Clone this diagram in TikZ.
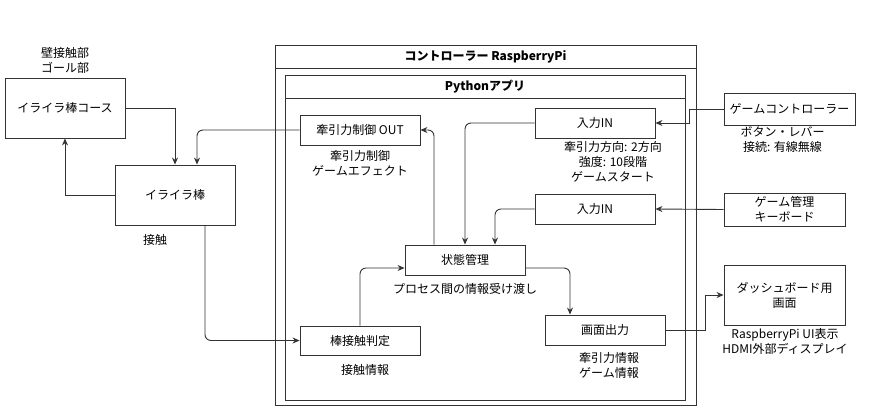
\documentclass[tikz,border=0pt]{standalone}
\usepackage{fontspec}
\setmainfont{Noto Sans CJK JP}
\usetikzlibrary{arrows.meta,positioning}
\tikzset{
  box/.style={draw=black!80, line width=0.9pt, minimum width=120pt, minimum height=30pt, inner sep=2pt, align=center},
  lbl/.style={align=center, inner sep=0pt},
  conn/.style={draw=black!80, line width=0.9pt, -{Stealth[length=7pt,width=6pt]}},
  roundconn/.style={conn, rounded corners=6pt}
}
\begin{document}
\begin{tikzpicture}[x=1pt, y=-1pt, font=\fontsize{12}{15}\selectfont]
  \useasboundingbox (0,0) rectangle (883,416);
  % containers
  \draw[black!80, line width=0.9pt] (275,45) rectangle (696,405);
  \draw[black!80, line width=0.9pt] (275,68) -- (696,68);
  \node[lbl, font=\fontsize{12}{15}\selectfont\bfseries] (ctrl) at (485.5,57) {コントローラー RaspberryPi};
  \draw[black!80, line width=0.9pt] (285,75) rectangle (685,400);
  \draw[black!80, line width=0.9pt] (285,98) -- (685,98);
  \node[lbl, font=\fontsize{12}{15}\selectfont\bfseries] (app) at (485,87) {Pythonアプリ};
  % boxes
  \node[box, minimum height=60pt] (course) at (65,108) {イライラ棒コース};
  \node[box, minimum height=60pt] (stick) at (175,195) {イライラ棒};
  \node[box] (out) at (360,130) {牽引力制御 OUT};
  \node[box] (in1) at (595,123) {入力IN};
  \node[box] (in2) at (595,209) {入力IN};
  \node[box] (state) at (465,260) {状態管理};
  \node[box, minimum height=29pt] (judge) at (360,340.5) {棒接触判定};
  \node[box] (screen) at (605,330) {画面出力};
  \node[box, minimum width=131pt, minimum height=32pt] (gc) at (789.5,109) {ゲームコントローラー};
  \node[box, minimum width=121pt, minimum height=33pt] (kb) at (784.5,209.5) {ゲーム管理\\キーボード};
  \node[box, minimum width=121pt, minimum height=60pt] (dash) at (784.5,295) {ダッシュボード用\\画面};
  % labels
  \node[lbl, above=4pt of course] (courselbl) {壁接触部\\ゴール部};
  \node[lbl] (sticklbl) at (155,240) {接触};
  \node[lbl] (outlbl) at (360,163) {牽引力制御\\ゲームエフェクト};
  \node[lbl] (in1lbl) at (613,162) {牽引力方向: 2方向\\強度: 10段階\\ゲームスタート};
  \node[lbl] (statelbl) at (465,289) {プロセス間の情報受け渡し};
  \node[lbl] (judgelbl) at (365,370) {接触情報};
  \node[lbl] (screenlbl) at (609,365) {牽引力情報\\ゲーム情報};
  \node[lbl] (gclbl) at (782.5,140) {ボタン・レバー\\接続: 有線無線};
  \node[lbl] (dashlbl) at (785,341) {RaspberryPi UI表示\\HDMI外部ディスプレイ};
  % connectors
  \draw[conn] (course.east) -| (stick.north);
  \draw[roundconn] (out.west) -| ([xshift=22pt]stick.north);
  \draw[conn] (stick.west) -| (course.south);
  \draw[roundconn] ([xshift=30pt]stick.south) |- (judge.west);
  \draw[roundconn] (judge.north) |- ([yshift=-8pt]state.west);
  \draw[roundconn] ([xshift=-31pt]state.north) |- (out.east);
  \draw[roundconn] (in1.west) -| (state.north);
  \draw[roundconn] (in2.west) -| ([xshift=30pt]state.north);
  \draw[roundconn] ([yshift=-8pt]state.east) -| ([xshift=-35pt]screen.north);
  \draw[conn] (screen.east) -- ++(40,0) |- (dash.west);
  \draw[conn] (gc.west) -- ++(-34,0) |- (in1.east);
  \draw[conn] (kb.west) -- (in2.east);
\end{tikzpicture}
\end{document}
